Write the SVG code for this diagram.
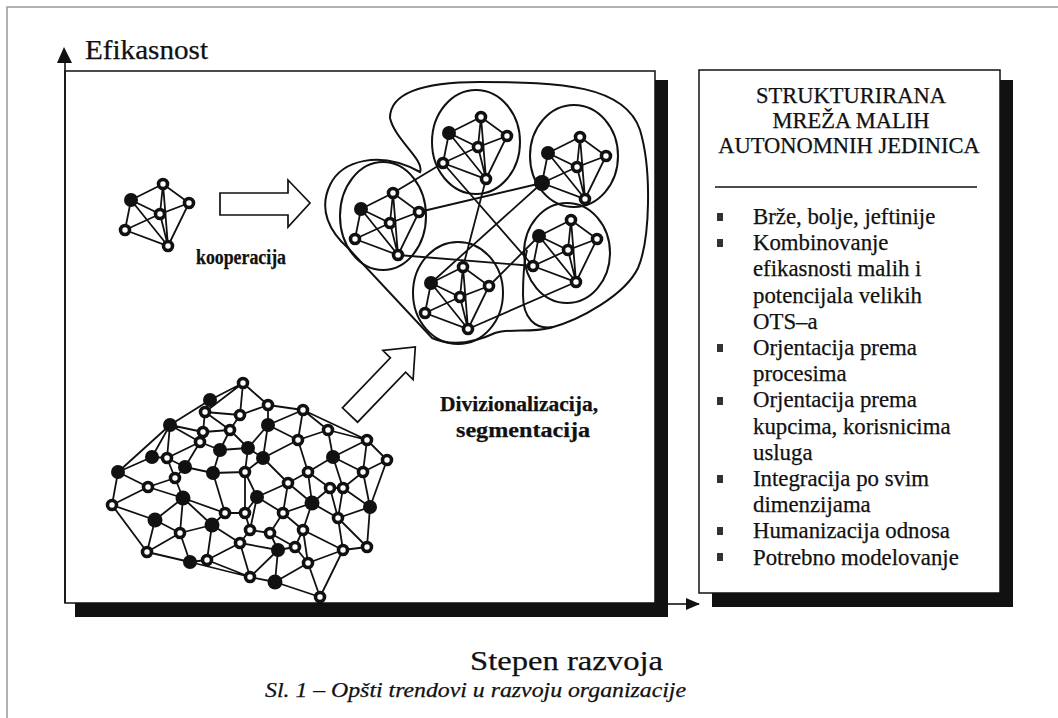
<svg xmlns="http://www.w3.org/2000/svg" xmlns:xlink="http://www.w3.org/1999/xlink" width="1058" height="718" viewBox="0 0 1058 718">
<style>
.ln{stroke:#111;stroke-width:1.8;fill:none}
.bd{stroke:#111;stroke-width:2;fill:none}
.rn{fill:#fff;stroke:#111;stroke-width:3.6}
.dn{fill:#111}
.t{font-family:"Liberation Serif","Times New Roman",serif;fill:#111;stroke:#111;stroke-width:0.25}
.b{font-weight:bold}
.bul{fill:#333}
</style>
<defs>
<g id="unit">
<path class="ln" d="M-29,-14L3,-30L29,-11L8,32L-35,16Z M-29,-14L0,0L29,-11 M3,-30L0,0L-35,16 M-29,-14L8,32L3,-30 M0,0L8,32"/>
<circle class="dn" cx="-29" cy="-14" r="7"/>
<circle class="rn" cx="3" cy="-30" r="4.5"/>
<circle class="rn" cx="29" cy="-11" r="4.5"/>
<circle class="rn" cx="0" cy="0" r="4.5"/>
<circle class="rn" cx="-35" cy="16" r="4.5"/>
<circle class="rn" cx="8" cy="32" r="4.5"/>
</g>
<marker id="ah" markerWidth="14" markerHeight="12" refX="13" refY="6" orient="auto" markerUnits="userSpaceOnUse"><path d="M0,0L14,6L0,12Z" fill="#111"/></marker>
</defs>
<rect width="1058" height="718" fill="#fff"/>
<g id="page-frame"><path d="M7,718V7H1058" stroke="#999" stroke-width="1.5" fill="none"/></g>

<g id="main-panel">
<rect x="75" y="80" width="593" height="537" fill="#111"/>
<rect x="65" y="71" width="590" height="532" fill="#fff" stroke="#111" stroke-width="1.5"/>
</g>

<g id="axes">
<line x1="65" y1="603" x2="65" y2="62" stroke="#111" stroke-width="1.6"/>
<path d="M64,47L57,63L72,63Z" fill="#111"/>
<line x1="668" y1="604" x2="699" y2="604" stroke="#111" stroke-width="1.6" marker-end="url(#ah)"/>
<text class="t" x="85" y="59" font-size="27" textLength="123" lengthAdjust="spacingAndGlyphs">Efikasnost</text>
<text class="t" x="470" y="670" font-size="28" textLength="193" lengthAdjust="spacingAndGlyphs">Stepen razvoja</text>
</g>

<g id="right-panel">
<rect x="712" y="80" width="301" height="527" fill="#111"/>
<rect x="699" y="70" width="301" height="523" fill="#fff" stroke="#111" stroke-width="1.5"/>
<g class="t" font-size="22.5" text-anchor="middle">
<text x="851" y="103">STRUKTURIRANA</text>
<text x="851" y="128">MREŽA MALIH</text>
<text x="849" y="153">AUTONOMNIH JEDINICA</text>
</g>
<line x1="715" y1="187" x2="977" y2="187" stroke="#111" stroke-width="1.5"/>
<g class="bul">
<rect x="717" y="213" width="6" height="8"/>
<rect x="717" y="239" width="6" height="8"/>
<rect x="717" y="344" width="6" height="8"/>
<rect x="717" y="397" width="6" height="8"/>
<rect x="717" y="475" width="6" height="8"/>
<rect x="717" y="527" width="6" height="8"/>
<rect x="717" y="553" width="6" height="8"/>
</g>
<g class="t" font-size="22.8">
<text x="753" y="224">Brže, bolje, jeftinije</text>
<text x="753" y="250.2">Kombinovanje</text>
<text x="753" y="276.4">efikasnosti malih i</text>
<text x="753" y="302.6">potencijala velikih</text>
<text x="753" y="328.8">OTS–a</text>
<text x="753" y="355">Orjentacija prema</text>
<text x="753" y="381.2">procesima</text>
<text x="753" y="407.4">Orjentacija prema</text>
<text x="753" y="433.6">kupcima, korisnicima</text>
<text x="753" y="459.8">usluga</text>
<text x="753" y="486">Integracija po svim</text>
<text x="753" y="512.2">dimenzijama</text>
<text x="753" y="538.4">Humanizacija odnosa</text>
<text x="753" y="564.6">Potrebno modelovanje</text>
</g>
</g>

<g id="net-small">
<use xlink:href="#unit" href="#unit" transform="translate(160,214)"/>
</g>

<g id="connectors">
<path d="M220,193L288,193L288,180L310,203L288,227L288,215L220,215Z" fill="#fff" stroke="#111" stroke-width="1.7"/>
<path d="M342.4,407.8L390.4,357.8L382.9,350.5L415.3,347L413.1,379.5L405.6,372.2L357.6,422.2Z" fill="#fff" stroke="#111" stroke-width="1.7"/>
</g>

<g id="labels" class="t b">
<text x="196" y="264" font-size="20" textLength="90" lengthAdjust="spacingAndGlyphs">kooperacija</text>
<text x="440" y="411" font-size="20" textLength="158" lengthAdjust="spacingAndGlyphs">Divizionalizacija,</text>
<text x="456" y="437" font-size="20" textLength="134" lengthAdjust="spacingAndGlyphs">segmentacija</text>
</g>

<g id="cluster">
<path class="bd" d="M390,118C390,90 430,82 480,82C560,82 625,85 640,130C652,170 650,240 638,268C625,295 580,320 550,328C530,333 510,328 495,333C480,340 455,348 432,338L348,248C330,232 318,210 330,185C342,160 380,150 420,172C425,160 395,140 390,118Z"/>
<path class="bd" d="M553,327C535,330 523,318 523,295C523,275 524,262 527,250"/>
<ellipse class="bd" cx="476" cy="142" rx="44" ry="52"/>
<ellipse class="bd" cx="574" cy="156" rx="44" ry="51"/>
<ellipse class="bd" cx="383" cy="216" rx="43" ry="54"/>
<ellipse class="bd" cx="458" cy="293" rx="45" ry="51"/>
<ellipse class="bd" cx="567" cy="253" rx="43" ry="50"/>
<path class="ln" d="M419,212L542,183 M398,255L533,266 M486,179L463,267 M542,183L431,283 M443,163L533,266 M393,193L443,163 M468,329L576,282 M489,286L539,236"/>
<use xlink:href="#unit" href="#unit" transform="translate(478,147)"/>
<use xlink:href="#unit" href="#unit" transform="translate(577,167)"/>
<use xlink:href="#unit" href="#unit" transform="translate(390,223)"/>
<use xlink:href="#unit" href="#unit" transform="translate(460,297)"/>
<use xlink:href="#unit" href="#unit" transform="translate(568,250)"/>
<circle class="dn" cx="542" cy="183" r="8"/>
</g>

<g id="net-large">
<path class="ln" d="M243 383L210 400M243 383L268 405M268 405L303 410M303 410L367 440M367 440L387 460M387 460L370 507M370 507L367 547M367 547L343 550M343 550L320 597M320 597L275 582M275 582L250 577M250 577L190 562M190 562L147 552M147 552L112 505M112 505L118 472M118 472L170 425M170 425L210 400M243 383L240 415M243 383L205 412M210 400L205 412M205 412L240 415M240 415L268 405M268 405L268 425M240 415L230 430M205 412L203 432M205 412L230 430M303 410L268 425M303 410L328 430M303 410L298 440M268 425L298 440M268 425L248 448M230 430L248 448M230 430L220 450M203 432L200 442M203 432L230 430M170 425L203 432M170 425L200 442M170 425L152 457M170 425L167 458M200 442L220 450M200 442L167 458M200 442L185 467M220 450L213 473M220 450L248 448M248 448L263 458M248 448L245 472M263 458L268 425M263 458L288 483M263 458L245 472M298 440L308 472M298 440L263 458M328 430L333 457M328 430L367 440M328 430L298 440M367 440L333 457M367 440L363 472M333 457L363 472M333 457L308 472M333 457L343 488M387 460L363 472M363 472L343 488M363 472L370 507M118 472L152 457M118 472L148 487M152 457L167 458M167 458L185 467M167 458L175 478M185 467L213 473M185 467L175 478M213 473L245 472M213 473L225 513M245 472L257 497M245 472L245 513M308 472L288 483M308 472L330 488M308 472L312 503M288 483L257 497M288 483L312 503M288 483L283 513M330 488L343 488M330 488L312 503M330 488L338 518M343 488L370 507M343 488L338 518M148 487L175 478M148 487L112 505M148 487L183 498M175 478L183 498M112 505L155 520M183 498L155 520M183 498L225 513M183 498L212 525M183 498L180 533M257 497L245 513M257 497L283 513M257 497L250 530M312 503L283 513M312 503L303 530M312 503L338 518M370 507L338 518M338 518L343 550M338 518L367 547M155 520L180 533M155 520L147 552M225 513L245 513M225 513L212 525M245 513L250 530M283 513L270 533M283 513L303 530M212 525L180 533M212 525L240 543M212 525L207 560M250 530L270 533M250 530L240 543M303 530L295 547M303 530L308 563M303 530L343 550M270 533L278 550M270 533L295 547M180 533L190 562M180 533L147 552M278 550L295 547M278 550L275 582M240 543L278 550M295 547L308 563M308 563L320 597M308 563L343 550M207 560L190 562M207 560L250 577M240 543L250 577M240 543L207 560M250 577L278 550M275 582L308 563"/>
<g class="rn">
<circle cx="243" cy="383" r="4.5"/><circle cx="205" cy="412" r="4.5"/><circle cx="240" cy="415" r="4.5"/><circle cx="268" cy="405" r="4.5"/><circle cx="303" cy="410" r="4.5"/><circle cx="203" cy="432" r="4.5"/><circle cx="230" cy="430" r="4.5"/><circle cx="328" cy="430" r="4.5"/><circle cx="367" cy="440" r="4.5"/><circle cx="200" cy="442" r="4.5"/><circle cx="298" cy="440" r="4.5"/><circle cx="167" cy="458" r="4.5"/><circle cx="387" cy="460" r="4.5"/><circle cx="245" cy="472" r="4.5"/><circle cx="308" cy="472" r="4.5"/><circle cx="363" cy="472" r="4.5"/><circle cx="175" cy="478" r="4.5"/><circle cx="288" cy="483" r="4.5"/><circle cx="148" cy="487" r="4.5"/><circle cx="330" cy="488" r="4.5"/><circle cx="343" cy="488" r="4.5"/><circle cx="112" cy="505" r="4.5"/><circle cx="225" cy="513" r="4.5"/><circle cx="245" cy="513" r="4.5"/><circle cx="283" cy="513" r="4.5"/><circle cx="338" cy="518" r="4.5"/><circle cx="250" cy="530" r="4.5"/><circle cx="303" cy="530" r="4.5"/><circle cx="270" cy="533" r="4.5"/><circle cx="180" cy="533" r="4.5"/><circle cx="240" cy="543" r="4.5"/><circle cx="295" cy="547" r="4.5"/><circle cx="343" cy="550" r="4.5"/><circle cx="147" cy="552" r="4.5"/><circle cx="207" cy="560" r="4.5"/><circle cx="308" cy="563" r="4.5"/><circle cx="250" cy="577" r="4.5"/><circle cx="320" cy="597" r="4.5"/><circle cx="367" cy="547" r="4.5"/>
</g>
<g class="dn">
<circle cx="210" cy="400" r="7"/><circle cx="170" cy="425" r="7"/><circle cx="268" cy="425" r="7"/><circle cx="248" cy="448" r="7"/><circle cx="220" cy="450" r="7"/><circle cx="152" cy="457" r="7"/><circle cx="263" cy="458" r="7"/><circle cx="333" cy="457" r="7"/><circle cx="118" cy="472" r="7"/><circle cx="185" cy="467" r="7"/><circle cx="213" cy="473" r="7"/><circle cx="183" cy="498" r="7.5"/><circle cx="257" cy="497" r="7"/><circle cx="312" cy="503" r="7.5"/><circle cx="370" cy="507" r="7"/><circle cx="155" cy="520" r="7.5"/><circle cx="212" cy="525" r="7.5"/><circle cx="278" cy="550" r="7"/><circle cx="190" cy="562" r="7"/><circle cx="275" cy="582" r="7.5"/>
</g>
</g>

<g id="caption">
<text class="t" x="265" y="697" font-size="20" font-style="italic" textLength="421" lengthAdjust="spacingAndGlyphs">Sl. 1 – Opšti trendovi u razvoju organizacije</text>
</g>
</svg>
